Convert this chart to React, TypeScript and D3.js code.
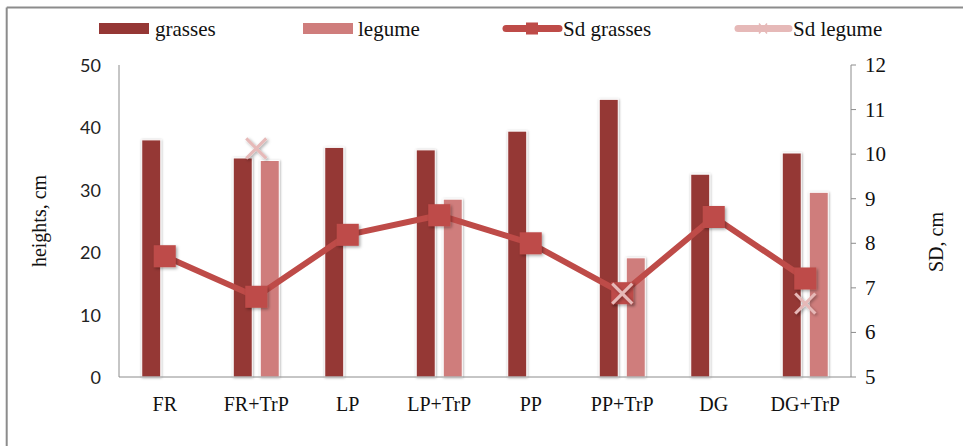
import React from 'react';
import * as d3 from 'd3';

const categories = ['FR', 'FR+TrP', 'LP', 'LP+TrP', 'PP', 'PP+TrP', 'DG', 'DG+TrP'];
const grasses: (number | null)[] = [38.0, 35.1, 36.8, 36.4, 39.4, 44.5, 32.5, 35.9];
const legume: (number | null)[] = [null, 34.7, null, 28.5, null, 19.1, null, 29.6];
const sdGrasses: (number | null)[] = [7.71, 6.8, 8.19, 8.63, 8.0, 6.88, 8.59, 7.21];
const sdLegume: (number | null)[] = [null, 10.13, null, null, null, 6.87, null, 6.65];
const leftTicks = [0, 10, 20, 30, 40, 50];
const rightTicks = [5, 6, 7, 8, 9, 10, 11, 12];
const seriesNames = ['grasses', 'legume'];

const W = 963;
const H = 446;
const plot = { left: 119, right: 851, top: 65, bottom: 377 };

const C_GRASS = '#953735';
const C_LEG = '#CF7D7C';
const C_SDG = '#BE4B48';
const C_SDL = '#E6B9B8';
const AXIS = '#8C8C8C';
const SERIF = '"Liberation Serif", "Times New Roman", serif';
const SANS = 'Lato, "Open Sans", sans-serif';

export default function App() {
  const x = d3.scaleBand<string>().domain(categories).range([plot.left, plot.right]).padding(0);
  const inner = d3
    .scaleBand<string>()
    .domain(seriesNames)
    .range([0, x.bandwidth()])
    .paddingInner(0.296)
    .paddingOuter(0.842);
  const yL = d3.scaleLinear().domain([0, 50]).range([plot.bottom, plot.top]);
  const yR = d3.scaleLinear().domain([5, 12]).range([plot.bottom, plot.top]);
  const cx = (c: string) => (x(c) as number) + x.bandwidth() / 2;

  const lineG = d3
    .line<number | null>()
    .defined((d) => d != null)
    .x((_, i) => cx(categories[i]))
    .y((d) => yR(d as number));

  const sq = 22;
  const xs = 10;

  const barData = [
    { name: 'grasses', vals: grasses, color: C_GRASS },
    { name: 'legume', vals: legume, color: C_LEG },
  ];

  return (
    <svg
      width={W}
      height={H}
      viewBox={`0 0 ${W} ${H}`}
      style={{ position: 'absolute', left: 0, top: 0, background: '#fff' }}
    >
      <defs>
        <filter id="sh" x="-30%" y="-5%" width="160%" height="110%">
          <feDropShadow dx="0.5" dy="0.5" stdDeviation="1.2" floodColor="#000" floodOpacity="0.35" />
        </filter>
        <filter id="shm" x="-30%" y="-30%" width="170%" height="170%">
          <feDropShadow dx="1.5" dy="1.5" stdDeviation="1.5" floodColor="#000" floodOpacity="0.35" />
        </filter>
      </defs>
      <rect x={0} y={0} width={W} height={H} fill="#fff" />
      {/* outer border (top & left visible) */}
      <line x1={6.7} y1={7.5} x2={W} y2={7.5} stroke={AXIS} strokeWidth={2} />
      <line x1={6.7} y1={7.5} x2={6.7} y2={H} stroke={AXIS} strokeWidth={2} />

      {/* bars */}
      {barData.map((s) =>
        s.vals.map((v, i) =>
          v == null ? null : (
            <rect
              key={s.name + i}
              x={(x(categories[i]) as number) + (inner(s.name) as number)}
              y={yL(v)}
              width={inner.bandwidth()}
              height={plot.bottom - yL(v)}
              fill={s.color}
              stroke="#fff"
              strokeWidth={1}
              filter="url(#sh)"
            />
          )
        )
      )}

      {/* axes */}
      <line x1={plot.left} y1={plot.top} x2={plot.left} y2={plot.bottom} stroke={AXIS} strokeWidth={1} />
      <line x1={plot.right} y1={plot.top} x2={plot.right} y2={plot.bottom} stroke={AXIS} strokeWidth={1} />
      <line x1={plot.left} y1={plot.bottom} x2={plot.right} y2={plot.bottom} stroke={AXIS} strokeWidth={1} />
      {leftTicks.map((t) => (
        <text
          key={'l' + t}
          x={101}
          y={yL(t)}
          textAnchor="end"
          dominantBaseline="central"
          fontFamily={SANS}
          fontSize={18}
          fill="#222"
        >
          {t}
        </text>
      ))}
      {rightTicks.map((t) => (
        <g key={'r' + t}>
          <line x1={plot.right} x2={plot.right + 5} y1={yR(t)} y2={yR(t)} stroke={AXIS} strokeWidth={1} />
          <text
            x={865}
            y={yR(t)}
            dominantBaseline="central"
            fontFamily={SERIF}
            fontSize={21}
            fill="#111"
          >
            {t}
          </text>
        </g>
      ))}
      {categories.map((c) => (
        <text
          key={'x' + c}
          x={cx(c)}
          y={411}
          textAnchor="middle"
          fontFamily={SERIF}
          fontSize={20}
          fill="#111"
        >
          {c}
        </text>
      ))}
      <text
        transform={`translate(46,221) rotate(-90)`}
        textAnchor="middle"
        fontFamily={SERIF}
        fontSize={20}
        fill="#111"
      >
        heights, cm
      </text>
      <text
        transform={`translate(943,242) rotate(-90)`}
        textAnchor="middle"
        fontFamily={SERIF}
        fontSize={20}
        fill="#111"
      >
        SD, cm
      </text>

      {/* SD grasses line */}
      <path d={lineG(sdGrasses) || ''} fill="none" stroke={C_SDG} strokeWidth={6} strokeLinejoin="round" />
      {sdGrasses.map((v, i) =>
        v == null ? null : (
          <rect
            key={'sq' + i}
            x={cx(categories[i]) - sq / 2}
            y={yR(v) - sq / 2}
            width={sq}
            height={sq}
            fill={C_SDG}
            filter="url(#shm)"
          />
        )
      )}
      {/* SD legume markers */}
      <path d={lineG(sdLegume) || ''} fill="none" stroke={C_SDL} strokeWidth={5} />
      {sdLegume.map((v, i) =>
        v == null ? null : (
          <g key={'xm' + i} transform={`translate(${cx(categories[i])},${yR(v)})`} filter="url(#shm)">
            <line x1={-xs} y1={-xs} x2={xs} y2={xs} stroke={C_SDL} strokeWidth={3} />
            <line x1={-xs} y1={xs} x2={xs} y2={-xs} stroke={C_SDL} strokeWidth={3} />
          </g>
        )
      )}

      {/* legend */}
      <rect x={99} y={23} width={50} height={11} fill={C_GRASS} />
      <text x={155} y={36} fontFamily={SERIF} fontSize={21} fill="#111">grasses</text>
      <rect x={303} y={23} width={50} height={11} fill={C_LEG} />
      <text x={358} y={36} fontFamily={SERIF} fontSize={21} fill="#111">legume</text>
      <line x1={506} x2={559} y1={28.5} y2={28.5} stroke={C_SDG} strokeWidth={7} strokeLinecap="round" />
      <rect x={526} y={22.5} width={12} height={12} fill={C_SDG} />
      <text x={563} y={36} fontFamily={SERIF} fontSize={21} fill="#111">Sd grasses</text>
      <line x1={738} x2={789} y1={28.5} y2={28.5} stroke={C_SDL} strokeWidth={7} strokeLinecap="round" />
      <line x1={759} x2={767} y1={23.5} y2={33.5} stroke={C_SDL} strokeWidth={1.5} />
      <line x1={759} x2={767} y1={33.5} y2={23.5} stroke={C_SDL} strokeWidth={1.5} />
      <text x={793} y={36} fontFamily={SERIF} fontSize={21} fill="#111">Sd legume</text>
    </svg>
  );
}
